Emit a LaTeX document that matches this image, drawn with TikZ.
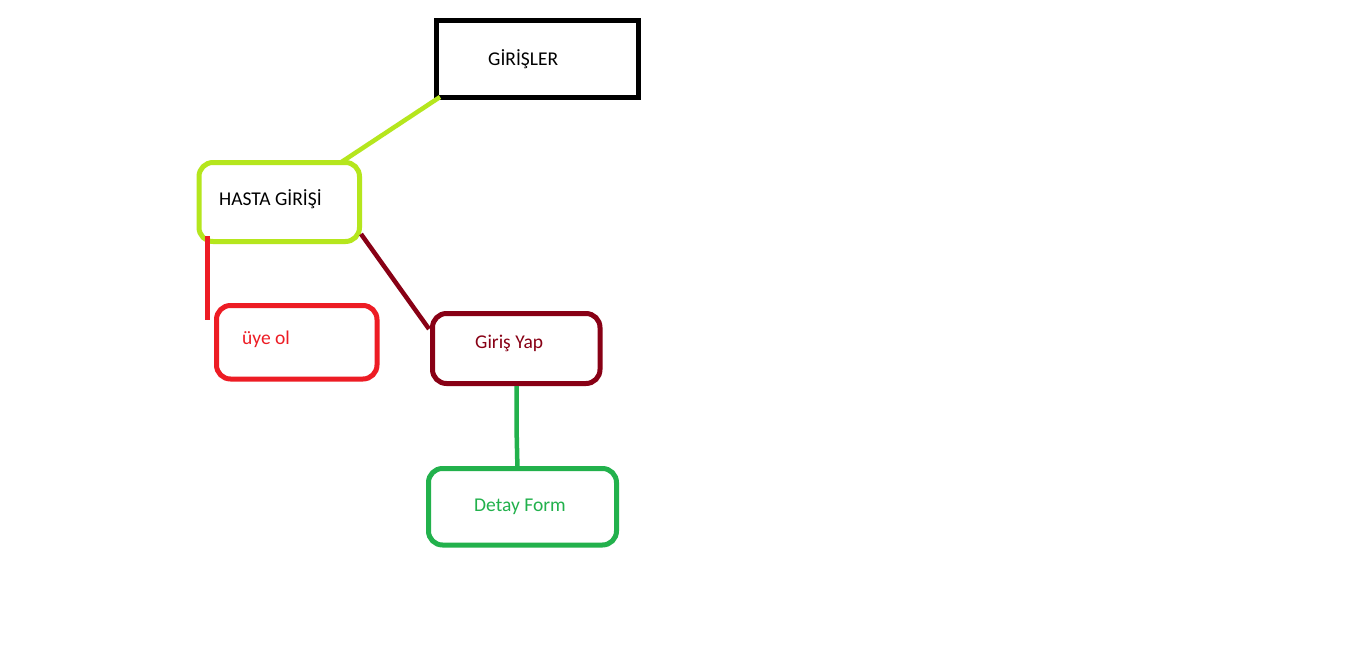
\documentclass[tikz,border=0pt]{standalone}
\usepackage{fontspec}
\setmainfont{Carlito}
\definecolor{plime}{HTML}{B5E61D}
\definecolor{pred}{HTML}{ED1C24}
\definecolor{pdark}{HTML}{880015}
\definecolor{pgreen}{HTML}{22B14C}
\begin{document}
\begin{tikzpicture}[x=1pt,y=-1pt,
  boxline/.style={draw,line width=5pt,inner sep=0pt,outer sep=0pt,rectangle},
  rbox/.style={boxline,rounded corners=14pt},
  lbl/.style={anchor=west,inner sep=0pt,font=\fontsize{19.5}{22}\selectfont},
  conn/.style={line width=4.5pt}]
\useasboundingbox[fill=white] (0,0) rectangle (1360,656);
% boxes
\node[boxline,black,minimum width=202pt,minimum height=77pt] (gir) at (537.5,59) {};
\node[lbl,text=black] (tG) at (488,59.5) {GİRİŞLER};

\node[rbox,plime,minimum width=160.5pt,minimum height=79pt] (hasta) at (279.25,202) {};
\node[lbl,text=black] (tH) at (219,199) {HASTA GİRİŞİ};

\node[rbox,pred,minimum width=160.5pt,minimum height=73.5pt] (uye) at (296.75,342.25) {};
\node[lbl,text=pred] (tU) at (242,339) {üye ol};

\node[rbox,pdark,minimum width=167.5pt,minimum height=70pt] (yap) at (516.25,348.5) {};
\node[lbl,text=pdark] (tY) at (475,343) {Giriş Yap};

\node[rbox,pgreen,minimum width=188pt,minimum height=76.5pt] (det) at (522.5,506.75) {};
\node[lbl,text=pgreen] (tD) at (474,507) {Detay Form};

% connectors
\draw[conn,plime] ([shift={(3.5,-0.5)}]gir.south west) -- ([shift={(60.75,0.5)}]hasta.north);
\draw[conn,pred] ([shift={(8.5,-5.5)}]hasta.south west) -- ([shift={(-9,14.5)}]uye.north west);
\draw[conn,pdark] ([shift={(1.5,-7.5)}]hasta.south east) -- ([shift={(-3.5,15.5)}]yap.north west);
\coordinate (kink) at (516.5,427);
\draw[conn,pgreen] ([shift={(0.25,2.5)}]yap.south) -- (kink) -- ([shift={(-5,1.5)}]det.north);
\end{tikzpicture}
\end{document}
